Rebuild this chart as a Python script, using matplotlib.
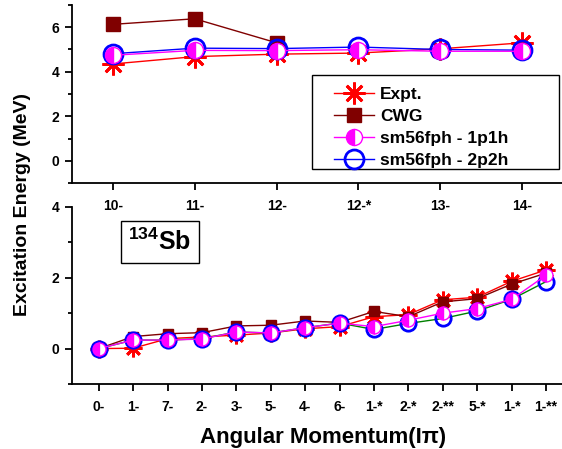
import numpy as np
import matplotlib
matplotlib.use("Agg")
import matplotlib.pyplot as plt
from matplotlib.ticker import MultipleLocator
from matplotlib.patches import Rectangle

plt.rcParams['font.family'] = ['Liberation Sans', 'DejaVu Sans']
plt.rcParams['font.weight'] = 'bold'
plt.rcParams['mathtext.fontset'] = 'custom'
plt.rcParams['mathtext.bf'] = 'Liberation Sans:bold'
plt.rcParams['mathtext.rm'] = 'Liberation Sans'

# upper panel: high-spin states
top_labels = ['10-', '11-', '12-', '12-*', '13-', '14-']
top_expt = [4.35, 4.68, 4.79, 4.84, 5.03, 5.30]
top_cwg = [6.13, 6.38, 5.30, np.nan, np.nan, np.nan]
top_1p1h = [4.74, 4.96, 4.95, 4.99, 4.92, 4.92]
top_2p2h = [4.81, 5.06, 5.04, 5.11, 5.00, 4.97]

# lower panel: low-lying states
bot_labels = ['0-', '1-', '7-', '2-', '3-', '5-', '4-', '6-',
              '1-*', '2-*', '2-**', '5-*', '1-*', '1-**']
bot_expt = [0.0, 0.01, 0.28, 0.33, 0.38, 0.44, 0.56, 0.62, 0.90, 0.96, 1.38, 1.45, 1.90, 2.22]
bot_cwg = [0.0, 0.34, 0.42, 0.45, 0.64, 0.66, 0.78, 0.74, 1.05, 0.90, 1.32, 1.41, 1.82, 2.13]
bot_1p1h = [0.0, 0.24, 0.24, 0.27, 0.47, 0.44, 0.59, 0.72, 0.62, 0.80, 1.00, 1.13, 1.39, 2.07]
bot_2p2h = [0.0, 0.24, 0.24, 0.28, 0.47, 0.44, 0.59, 0.72, 0.54, 0.71, 0.85, 1.06, 1.39, 1.89]

fig = plt.figure(figsize=(5.62, 4.49), dpi=100)
ax1 = fig.add_axes([0.1281, 0.5924, 0.8737, 0.3965])
ax2 = fig.add_axes([0.1281, 0.1448, 0.891, 0.3942])
ax2.patch.set_visible(False)

star = (8, 2, 0)


def draw(ax, labels, expt, cwg, p1, p2, line2p2h, scale):
    x = np.arange(len(labels))
    ax.plot(x, expt, color='red', lw=1, marker=star, ms=15 * scale, mew=2,
            label='Expt.', zorder=2)
    ax.plot(x, cwg, color='#800000', lw=1, marker='s', ms=9 * scale, label='CWG', zorder=3)
    ax.plot(x, p2, color=line2p2h, lw=1, marker='o', ms=13 * scale, mfc='none', mec='blue',
            mew=2, label='sm56fph - 2p2h', zorder=4)
    ax.plot(x, p1, color='magenta', lw=1, marker='o', ms=11 * scale, fillstyle='left',
            mfc='magenta', mfcalt='white', mec='magenta', mew=1,
            label='sm56fph - 1p1h', zorder=5)
    ax.set_xticks(x)
    ax.set_xticklabels(labels, fontsize=10, fontweight='bold')
    for s in ['top', 'right']:
        ax.spines[s].set_visible(False)
    for s in ['left', 'bottom']:
        ax.spines[s].set_linewidth(1.3)
    ax.yaxis.set_major_locator(MultipleLocator(2))
    ax.yaxis.set_minor_locator(MultipleLocator(1))
    ax.tick_params(axis='both', which='major', direction='out', length=5, width=1.3,
                   labelsize=10)
    ax.tick_params(axis='x', pad=6.5)
    ax.tick_params(axis='y', pad=4)
    ax.tick_params(axis='y', which='minor', direction='out', length=3, width=1.3)
    for t in ax.get_yticklabels():
        t.set_fontweight('bold')


draw(ax1, top_labels, top_expt, top_cwg, top_1p1h, top_2p2h, 'blue', 1.05)
ax1.set_xlim(-0.5, 5.5)
ax1.set_ylim(-1, 7)

draw(ax2, bot_labels, bot_expt, bot_cwg, bot_1p1h, bot_2p2h, 'green', 0.85)
ax2.set_xlim(-0.78, 13.78)
ax2.set_ylim(-1, 4)

# legend frame drawn separately, wider than the entries
frame = Rectangle((312 / 562, 1 - 169 / 449), 247 / 562, 94 / 449,
                  transform=fig.transFigure, fc='white', ec='black', lw=1, zorder=6)
ax1.add_patch(frame)
frame.set_clip_on(False)

h, l = ax1.get_legend_handles_labels()
order = [0, 1, 3, 2]
leg = ax1.legend([h[i] for i in order], [l[i] for i in order],
                 loc='upper left', bbox_to_anchor=(334 / 562, 1 - 87 / 449),
                 bbox_transform=fig.transFigure, frameon=False,
                 prop={'size': 12.5, 'weight': 'bold'},
                 handlelength=2.3, handletextpad=0.35, labelspacing=0.4,
                 borderpad=0, borderaxespad=0)
leg.set_zorder(7)
leg.get_lines()[3].set_color('blue')

fig.text(160 / 562, 1 - 242 / 449, r'$\mathbf{^{134}Sb}$', fontsize=18,
         ha='center', va='center',
         bbox=dict(boxstyle='square,pad=0.3', fc='white', ec='black', lw=1))

fig.text(22.5 / 562, 1 - 205 / 449, 'Excitation Energy (MeV)', rotation=90,
         ha='center', va='center', fontsize=14, fontweight='bold')
fig.text(323 / 562, 1 - 437 / 449, 'Angular Momentum(I\u03c0)', ha='center', va='center',
         fontsize=16, fontweight='bold')

fig.savefig('out.png', dpi=100)
